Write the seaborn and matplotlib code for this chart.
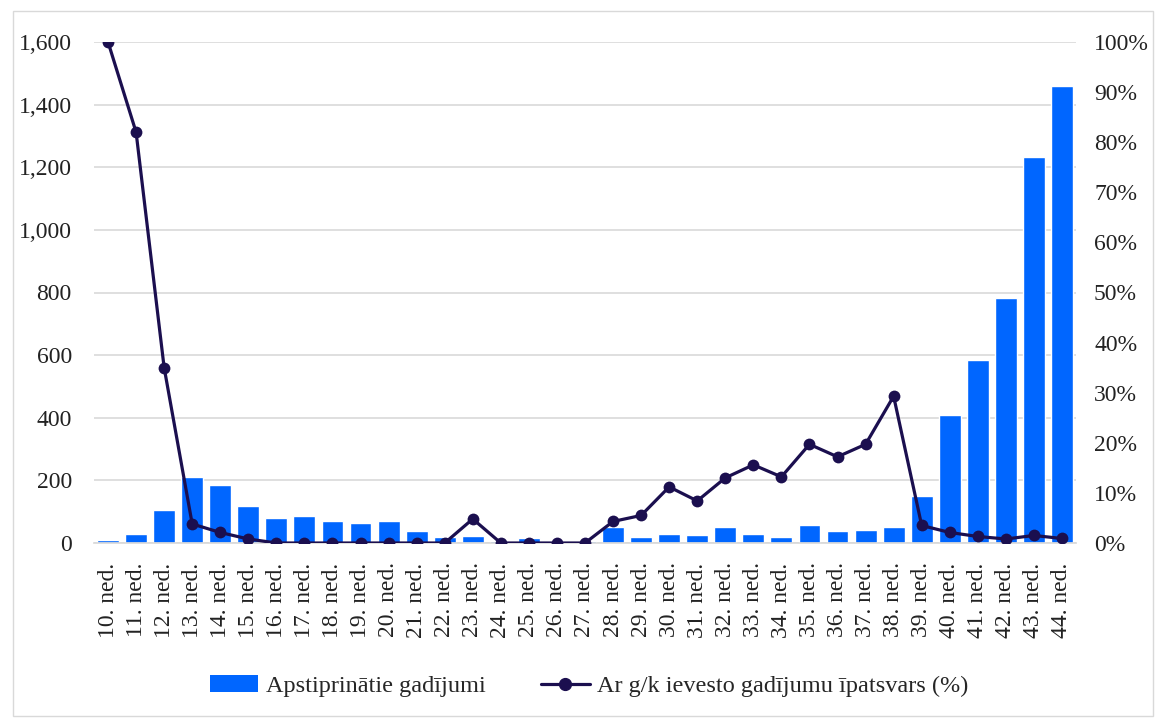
import matplotlib
matplotlib.use("Agg")
import matplotlib.pyplot as plt
import matplotlib.ticker as mticker
from matplotlib.patches import Rectangle
from matplotlib.lines import Line2D
from matplotlib.patches import Patch
import seaborn as sns
import pandas as pd

weeks = [f"{w}. ned." for w in range(10, 45)]
cases = [10, 30, 105, 210, 185, 118, 80, 85, 70, 65, 70, 38, 18, 23, 5, 15, 5, 5,
         52, 18, 30, 25, 50, 30, 18, 57, 38, 43, 50, 150, 410, 585, 782, 1232, 1458]
share = [100, 82, 35, 3.8, 2.1, 0.8, 0, 0, 0, 0, 0, 0, 0, 4.8, 0, 0, 0, 0,
         4.3, 5.5, 11.2, 8.4, 13.0, 15.6, 13.2, 19.7, 17.2, 19.7, 29.3,
         3.5, 2.1, 1.3, 0.8, 1.5, 0.9]
bar_label = "Apstiprinātie gadījumi"
line_label = "Ar g/k ievesto gadījumu īpatsvars (%)"

BAR_C = "#0066FF"
LINE_C = "#1B0F4F"
FS = 17

sns.set_theme(style="white")
plt.rcParams["font.family"] = ["Liberation Serif", "DejaVu Serif"]

df = pd.DataFrame({"week": weeks, "cases": cases, "share": share})

fig = plt.figure(figsize=(11.55, 7.18), dpi=100)
ax = fig.add_axes([94 / 1155, 1 - 543 / 718, (1076 - 94) / 1155, (543 - 42) / 718])

sns.barplot(data=df, x="week", y="cases", color=BAR_C, saturation=1, width=0.78, ax=ax, zorder=2)
ax.set_ylim(0, 1600)
ax.set_xlim(-0.5, len(weeks) - 0.5)
ax.yaxis.set_major_locator(mticker.MultipleLocator(200))
ax.yaxis.set_major_formatter(mticker.FuncFormatter(lambda v, p: f"{int(v):,}"))
ax.grid(axis="y", color="#d9d9d9", linewidth=1.2, zorder=0)
ax.set_axisbelow(True)
for s in ["top", "left", "right"]:
    ax.spines[s].set_visible(False)
ax.spines["bottom"].set_color("#d9d9d9")
ax.set_xlabel("")
ax.set_ylabel("")
ax.tick_params(axis="y", length=0, pad=16, labelsize=FS, colors="#222222")
ax.tick_params(axis="x", length=0, pad=14, labelsize=FS, colors="#222222", rotation=90)

ax2 = ax.twinx()
x_pos = list(range(len(weeks)))
sns.lineplot(x=x_pos, y=share, ax=ax2, color=LINE_C, linewidth=2.3, marker="o",
             markersize=8.5, markeredgewidth=0, zorder=5)
ax2.set_ylim(0, 100)
ax2.set_xlim(-0.5, len(weeks) - 0.5)
ax2.yaxis.set_major_locator(mticker.MultipleLocator(10))
ax2.yaxis.set_major_formatter(mticker.FuncFormatter(lambda v, p: f"{int(v)}%"))
ax2.tick_params(axis="y", length=0, pad=13, labelsize=FS, colors="#222222")
ax2.grid(False)
for s in ["top", "left", "right", "bottom"]:
    ax2.spines[s].set_visible(False)
ax2.set_ylabel("")

handles = [Patch(facecolor=BAR_C, edgecolor="none", label=bar_label),
           Line2D([0], [0], color=LINE_C, linewidth=2.3, marker="o", markersize=8.5, label=line_label)]
fig.legend(handles=handles, loc="center", bbox_to_anchor=(0.51, 1 - 686 / 718), ncol=2,
           frameon=False, fontsize=17.5, handlelength=2.0, columnspacing=2.3, handletextpad=0.3)

fig.add_artist(Rectangle((13 / 1155, 2 / 718), 1 - 15 / 1155, 1 - 13 / 718,
                         transform=fig.transFigure, fill=False, edgecolor="#d9d9d9", linewidth=1))

fig.savefig("out.png", dpi=100)
